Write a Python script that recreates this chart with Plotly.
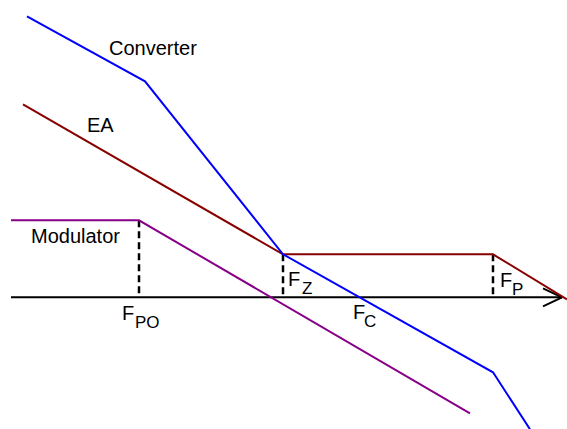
import plotly.graph_objects as go

# Asymptotic gain curves (x: log-frequency position, y: gain, 0 = crossover axis)
converter_x = [27, 145, 283, 493, 530]
converter_y = [281, 216, 43, -75, -132]

ea_x = [23, 283, 493, 567]
ea_y = [193, 43, 43, -2]

modulator_x = [11, 139, 470]
modulator_y = [77, 77, -116]

# Corner frequencies marked with dashed drop lines
f_po, f_z, f_p = 139, 283, 493
axis_start, axis_end = 11, 562

FONT = "Liberation Sans, Arial, sans-serif"

fig = go.Figure()

# frequency axis with open arrow head
fig.add_trace(go.Scatter(x=[axis_start, axis_end], y=[0, 0], mode="lines",
                         line=dict(color="black", width=2), hoverinfo="skip"))
fig.add_trace(go.Scatter(x=[axis_end - 19, axis_end, axis_end - 19], y=[9, 0, -9],
                         mode="lines", line=dict(color="black", width=2), hoverinfo="skip"))

# dashed drop lines from the corner points down to the axis
for fx, top in [(f_po, modulator_y[1]), (f_z, ea_y[1]), (f_p, ea_y[2])]:
    fig.add_trace(go.Scatter(x=[fx, fx], y=[top, 0], mode="lines",
                             line=dict(color="black", width=2.5, dash="7px,4px"),
                             hoverinfo="skip"))

fig.add_trace(go.Scatter(x=modulator_x, y=modulator_y, mode="lines",
                         line=dict(color="#880088", width=2), name="Modulator"))
fig.add_trace(go.Scatter(x=ea_x, y=ea_y, mode="lines",
                         line=dict(color="#880000", width=2), name="EA"))
fig.add_trace(go.Scatter(x=converter_x, y=converter_y, mode="lines",
                         line=dict(color="#0000FF", width=2), name="Converter"))


def label(text, x, y, size=20):
    fig.add_annotation(x=x, y=y, text=text, showarrow=False, xanchor="left",
                       yanchor="middle",
                       font=dict(family=FONT, size=size, color="black"))


# curve names
label("Converter", 106.5, 249.8)
label("EA", 84.5, 172.3)
label("Modulator", 28.5, 61.5)

# corner frequency names: main letter plus lowered subscript
freq_labels = [
    ("F", "PO", 119.5, -15.2, 132.5),
    ("F", "Z", 286.0, 18.8, 300.0),
    ("F", "C", 351.0, -14.7, 362.0),
    ("F", "P", 498.0, 17.8, 509.8),
]
for main, sub, x, y, sub_x in freq_labels:
    label(main, x, y)
    label(sub, sub_x, y - 9.5, size=17)

fig.update_layout(
    width=567, height=429, margin=dict(l=0, r=0, t=0, b=0),
    paper_bgcolor="white", plot_bgcolor="white", showlegend=False,
    xaxis=dict(range=[0, 567], visible=False, fixedrange=True),
    yaxis=dict(range=[-131.7, 297.3], visible=False, fixedrange=True),
)

fig.write_html("out.html")
